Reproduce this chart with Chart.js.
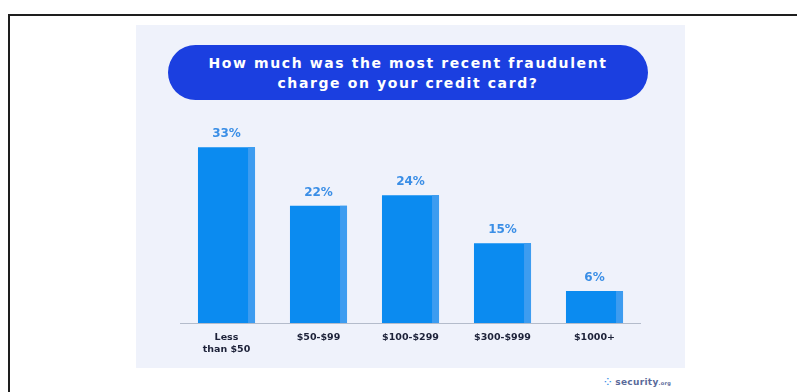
<!DOCTYPE html>
<html>
<head>
<meta charset="utf-8">
<script src="https://cdn.jsdelivr.net/npm/chart.js@4.4.0/dist/chart.umd.min.js"></script>
<style>
  body { margin: 0; width: 797px; height: 392px; background: #fff; position: relative; overflow: hidden; font-family: "DejaVu Sans", sans-serif; }
  #frame { position: absolute; left: 8px; top: 14px; width: 900px; height: 500px; border: 2px solid #1e1e1e; }
  #panel { position: absolute; left: 136px; top: 25px; width: 549px; height: 343px; background: #eff2fb; }
  #pill { position: absolute; left: 168px; top: 45px; width: 480px; height: 55px; border-radius: 28px; background: #1b3fe0;
          color: #fff; font-weight: bold; font-size: 14px; letter-spacing: 1.6px; line-height: 20px; text-align: center;
          display: flex; align-items: center; justify-content: center; }
  #wrap { position: absolute; left: 136px; top: 25px; width: 549px; height: 343px; }
  #logo { position: absolute; left: 604px; top: 377px; font-size: 9px; font-weight: bold; color: #5a6a9a; letter-spacing: 0.3px; }
  #logo span { color: #3b8fe8; }
</style>
</head>
<body>
<div id="frame"></div>
<div id="panel"></div>
<div id="wrap"><canvas id="chart"></canvas></div>
<div id="pill">How much was the most recent fraudulent<br>charge on your credit card?</div>
<div id="logo"><span>&#x2058;</span> security<small style="font-size:5px">.org</small></div>
<script>
var categories = [["Less", "than $50"], "$50-$99", "$100-$299", "$300-$999", "$1000+"];
var shares = [33, 22, 24, 15, 6];

// lighter strip on right edge of each bar + value labels above
var barExtras = {
    id: "barExtras",
    afterDatasetsDraw: function (chart) {
        var c = chart.ctx;
        var meta = chart.getDatasetMeta(0);
        c.save();
        meta.data.forEach(function (bar, i) {
            var right = bar.x + bar.width / 2;
            c.fillStyle = "#3d9cf0";
            c.fillRect(right - 7, bar.y, 7, bar.base - bar.y);
            c.fillStyle = "#3a8ee6";
            c.font = "bold 12px 'DejaVu Sans'";
            c.textAlign = "center";
            c.textBaseline = "middle";
            c.fillText(shares[i] + "%", bar.x, bar.y - 13);
        });
        c.restore();
    }
};

new Chart(document.getElementById("chart"), {
    type: "bar",
    data: {
        labels: categories,
        datasets: [{
            label: "Share",
            data: shares,
            backgroundColor: "#0b8bf0",
            categoryPercentage: 0.62,
            barPercentage: 1
        }]
    },
    options: {
        responsive: true,
        maintainAspectRatio: false,
        animation: false,
        layout: { padding: { left: 44.5, right: 44.5, top: 85, bottom: 0 } },
        plugins: { legend: { display: false }, tooltip: { enabled: false } },
        scales: {
            x: {
                grid: { display: false },
                border: { display: true, color: "#b4bccb", width: 1 },
                ticks: { color: "#1c2138", font: { size: 9.5, weight: "bold", family: "DejaVu Sans" }, padding: 1, maxRotation: 0 },
                afterFit: function (s) { s.height = 45; }
            },
            y: { display: false, min: 0, max: 40 }
        }
    },
    plugins: [barExtras]
});
</script>
</body>
</html>
